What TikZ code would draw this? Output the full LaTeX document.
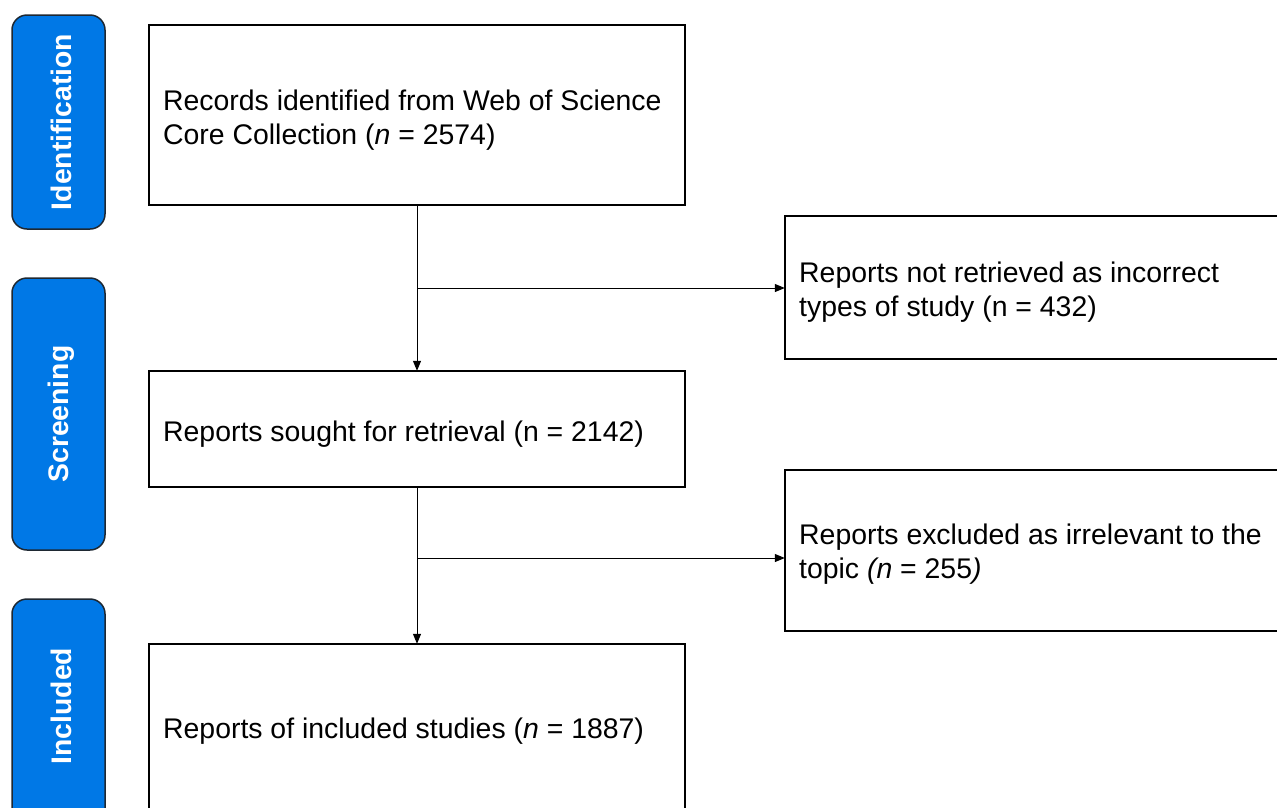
\documentclass[tikz,border=0pt]{standalone}
\usepackage{fontspec}
\setmainfont{Liberation Sans}
\usetikzlibrary{arrows.meta}
\definecolor{phaseblue}{RGB}{0,120,230}
\definecolor{phaseedge}{RGB}{30,40,50}
\tikzset{
  phase/.style={draw=phaseedge, line width=1.5pt, fill=phaseblue, rounded corners=15pt},
  phasetext/.style={text=white, font=\fontsize{28.3}{34}\selectfont\bfseries, rotate=90, inner sep=0pt},
  stagebox/.style={draw=black, line width=1.8pt, fill=white},
  boxtext/.style={font=\fontsize{28.4}{34}\selectfont, align=left, anchor=west, inner sep=0pt},
  flow/.style={draw=black, line width=1pt, -{Triangle[length=10pt,width=8pt]}}
}
\begin{document}
\begin{tikzpicture}[x=1pt,y=-1pt]
\useasboundingbox (0,0) rectangle (1277,807);
\clip (0,0) rectangle (1277,807);
% phase labels
\draw[phase] (12,15) rectangle (105,229);
\node[phasetext] (lid) at (61,122) {Identification};
\draw[phase] (12,278) rectangle (105,550);
\node[phasetext] (lsc) at (61,414) {Screening};
\draw[phase] (12,599) rectangle (105,860);
\node[phasetext] (lin) at (61,706) {Included};
% boxes
\path[stagebox] (149,25) rectangle (685,205);
\node (b1) at (417,115) [minimum width=536pt, minimum height=180pt, inner sep=0pt] {};
\node[boxtext] (t1) at (163,120) {Records identified from Web of Science\\Core Collection (\textit{n} = 2574)};
\path[stagebox] (149,371) rectangle (685,487);
\node (b2) at (417,429) [minimum width=536pt, minimum height=116pt, inner sep=0pt] {};
\node[boxtext] (t2) at (163,434) {Reports sought for retrieval (n = 2142)};
\path[stagebox] (149,644) rectangle (685,830);
\node (b3) at (417,737) [minimum width=536pt, minimum height=186pt, inner sep=0pt] {};
\node[boxtext] (t3) at (163,731) {Reports of included studies (\textit{n} = 1887)};
\path[stagebox] (785,216) rectangle (1300,359);
\node (r1) at (1042.5,287.5) [minimum width=515pt, minimum height=143pt, inner sep=0pt] {};
\node[boxtext] (tr1) at (799,292) {Reports not retrieved as incorrect\\types of study (n = 432)};
\path[stagebox] (785,470) rectangle (1300,631);
\node (r2) at (1042.5,550.5) [minimum width=515pt, minimum height=161pt, inner sep=0pt] {};
\node[boxtext] (tr2) at (799,554) {Reports excluded as irrelevant to the\\topic \textit{(n} = 255\textit{)}};
% connectors
\coordinate (j1) at (417,288);
\coordinate (j2) at (417,558);
\draw[flow] (b1.south) -- (b2.north);
\draw[flow] (j1) -- (j1 -| r1.west);
\draw[flow] (b2.south) -- (b3.north);
\draw[flow] (j2) -- (j2 -| r2.west);
\end{tikzpicture}
\end{document}
